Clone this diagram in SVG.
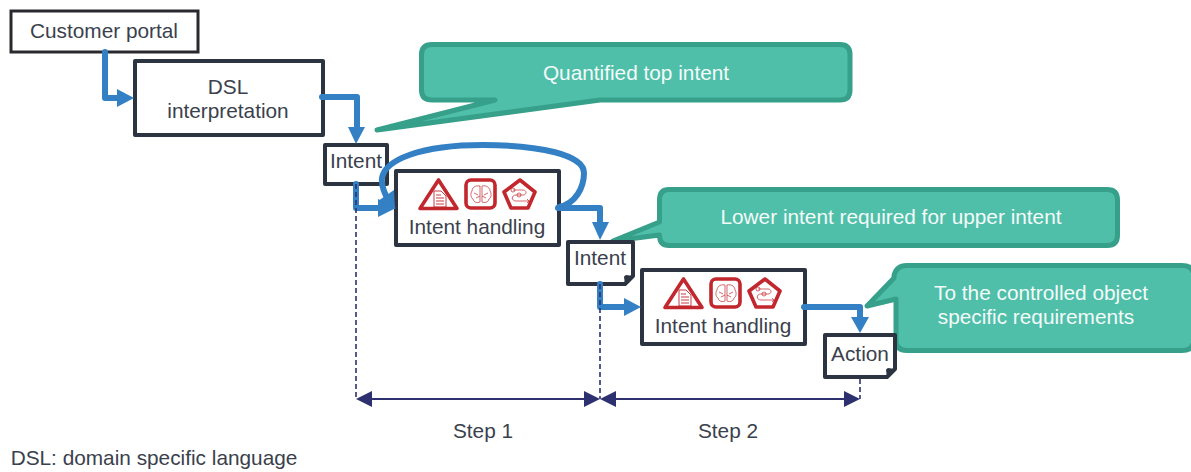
<svg xmlns="http://www.w3.org/2000/svg" xmlns:xlink="http://www.w3.org/1999/xlink" width="1191" height="472" viewBox="0 0 1191 472">
<style>
text{font-family:"Liberation Sans",Arial,sans-serif;font-size:20.8px;fill:#3a414c;text-anchor:middle}
.box{fill:#fff;stroke:#2b3440;stroke-width:4;stroke-linejoin:round}
.call{fill:#4fbfa9;stroke:#36a08a;stroke-width:5;stroke-linejoin:round}
.ct{fill:#f4fbf9}
.flow{fill:none;stroke:#3380c4;stroke-width:6;stroke-linecap:round;stroke-linejoin:round}
.head{fill:#3380c4}
.dash{fill:none;stroke:#2d3170;stroke-width:1.6;stroke-dasharray:5 3}
.dim{fill:none;stroke:#2d3170;stroke-width:2}
.dimh{fill:#2d3170}
.ic{fill:none;stroke:#c1272d;stroke-linejoin:round}
</style>
<defs>
<g id="icons">
<path class="ic" stroke-width="3.600" d="M438.500 180L420 208.500H457Z"/>
<path class="ic" stroke-width="0.900" d="M434 191H441L446 196V207H434ZM436 195H441M436 198H444M436 201H444M436 204H444"/>
<rect class="ic" stroke-width="3.600" x="466" y="180" width="29" height="28" rx="5"/>
<path class="ic" stroke-width="0.700" d="M480 186C475 185 472 188 472 191C470 194 471 198 473 199C474 203 478 203 480 202ZM482 186C487 185 490 188 490 191C492 194 491 198 489 199C488 203 484 203 482 202ZM474 193L478 195M488 193L484 195M476 198L480 196M486 198L482 196"/>
<path class="ic" stroke-width="3.600" d="M520 180L535 192L528 208H511L504 192Z"/>
<path class="ic" stroke-width="0.700" d="M513 190H523C527 190 527 195 523 195H516C511 195 511 201 516 201H529M527 199L529 201L527 203"/>
<circle class="ic" stroke-width="0.700" cx="513" cy="190" r="2"/>
<circle class="ic" stroke-width="0.700" cx="519" cy="195" r="2"/>
</g>
</defs>
<g id="callout-top">
<path class="call" d="M432 44.500H840Q850 44.500 850 54.500V90Q850 100 840 100H600L377 130L495 100H432Q421.500 100 421.500 90V54.500Q421.500 44.500 432 44.500Z"/>
<text class="ct" x="636" y="80">Quantified top intent</text>
</g>
<g id="callout-lower">
<path class="call" d="M669 189.500H1107Q1117.500 189.500 1117.500 200V235Q1117.500 245.500 1107 245.500H669Q659.500 245.500 659.500 235L613 241L659.500 222V200Q659.500 189.500 669 189.500Z"/>
<text class="ct" x="891" y="224">Lower intent required for upper intent</text>
</g>
<g id="callout-action">
<path class="call" d="M907 265.500H1182Q1194 265.500 1194 277V339Q1194 350.500 1182 350.500H907Q896 350.500 896 340V299L867 306L894 278V276Q896 265.500 907 265.500Z"/>
<text class="ct" x="1041" y="300">To the controlled object</text>
<text class="ct" x="1036" y="324">specific requirements</text>
</g>
<g id="customer-portal">
<rect x="11" y="11" width="187" height="41" fill="#fff" stroke="#2a2a2e" stroke-width="3"/>
<text x="104" y="38">Customer portal</text>
</g>
<g id="dsl">
<rect class="box" x="135" y="61" width="188" height="74"/>
<text x="228" y="94">DSL</text>
<text x="228" y="118">interpretation</text>
</g>
<g id="intent-1">
<rect class="box" x="325" y="145" width="62" height="39"/>
<text x="356" y="168">Intent</text>
</g>
<g id="handling-1">
<rect class="box" x="396" y="171" width="163" height="74"/>
<use xlink:href="#icons" href="#icons"/>
<text x="477" y="234">Intent handling</text>
</g>
<g id="intent-2">
<path class="box" d="M568 242H633V276L625 284H568Z"/>
<path d="M633 276L625 284L624 277Q624 276 626 275Z" fill="#2b3440"/>
<text x="600" y="265">Intent</text>
</g>
<g id="handling-2">
<rect class="box" x="642" y="270" width="163" height="74"/>
<use xlink:href="#icons" href="#icons" transform="translate(245 99)"/>
<text x="723" y="333">Intent handling</text>
</g>
<g id="action">
<path class="box" d="M825 335H895V369L887 377H825Z"/>
<path d="M895 369L887 377L886 370Q886 369 888 368Z" fill="#2b3440"/>
<text x="860" y="361">Action</text>
</g>
<g id="connectors">
<path class="flow" d="M105 52V98H118"/>
<path class="head" d="M134 98L117 89V107Z"/>
<path class="flow" d="M322 97H357V128"/>
<path class="head" d="M356 144L348 127H365Z"/>
<path class="flow" d="M356 184V208H380"/>
<path class="head" d="M396 208L378 199V217Z"/>
<path class="flow" d="M559 207C575 204 584 188 584 173C584 155 540 145 483 145C420 145 385 160 382 178C381 186 385 194 390 204"/>
<path class="head" d="M395 209L378 201L394 190Z"/>
<path class="flow" d="M558 208H600V224"/>
<path class="head" d="M600 240L592 222H609Z"/>
<path class="flow" d="M600 284V307H626"/>
<path class="head" d="M641 307L624 298V316Z"/>
<path class="flow" d="M804 307H860V319"/>
<path class="head" d="M860 333L851 317H869Z"/>
<path class="dash" d="M356 184V399M600 284V399M860 379V399"/>
<path class="dim" d="M368 399H590M610 399H848"/>
<path class="dimh" d="M356 399L372 391V407ZM600 399L584 391V407ZM600 399L616 391V407ZM860 399L844 391V407Z"/>
</g>
<text x="483" y="438">Step 1</text>
<text x="728" y="438">Step 2</text>
<text x="154" y="465">DSL: domain specific language</text>
</svg>
